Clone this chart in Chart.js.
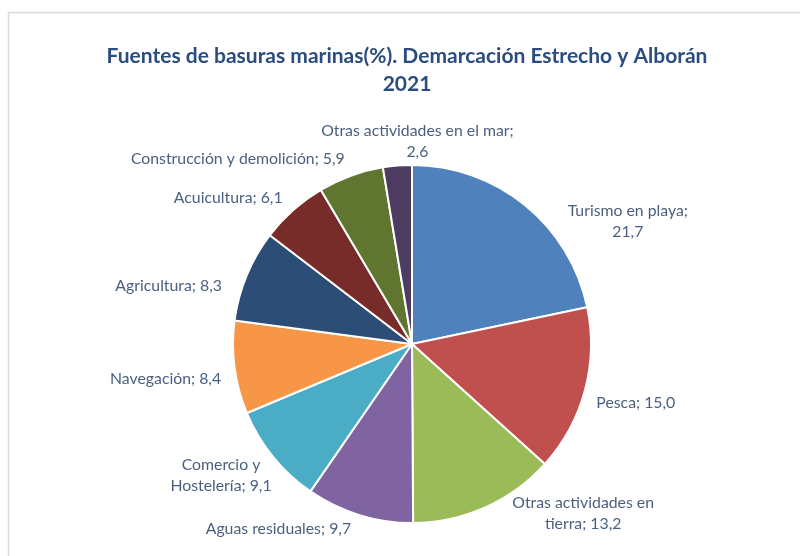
<!DOCTYPE html>
<html>
<head>
<meta charset="utf-8">
<script src="https://cdn.jsdelivr.net/npm/chart.js@4"></script>
<style>
    html, body { margin: 0; padding: 0; background: #fff; }
    #wrap { width: 800px; height: 556px; position: relative; }
</style>
</head>
<body>
<div id="wrap"><canvas id="chartFuentes" width="800" height="556"></canvas></div>
<script>
// Datos
const categorias = [
    'Turismo en playa', 'Pesca', 'Otras actividades en tierra', 'Aguas residuales',
    'Comercio y Hostelería', 'Navegación', 'Agricultura', 'Acuicultura',
    'Construcción y demolición', 'Otras actividades en el mar'
];
const porcentajes = [21.7, 15.0, 13.2, 9.7, 9.1, 8.4, 8.3, 6.1, 5.9, 2.6];
const colores = [
    '#4F81BD', '#C0504D', '#9BBB59', '#8064A2', '#4BACC6',
    '#F79646', '#2C4D75', '#772C2A', '#5F7530', '#4D3B62'
];

// Cómo se parte cada etiqueta en líneas (como en el original)
const lineasEtiqueta = [
    ['Turismo en playa;', '{v}'],
    ['Pesca; {v}'],
    ['Otras actividades en', 'tierra; {v}'],
    ['Aguas residuales; {v}'],
    ['Comercio y', 'Hostelería; {v}'],
    ['Navegación; {v}'],
    ['Agricultura; {v}'],
    ['Acuicultura; {v}'],
    ['Construcción y demolición; {v}'],
    ['Otras actividades en el mar;', '{v}']
];
// Desplazamiento del centro de la etiqueta respecto al borde del sector
const desplazamientos = [
    [103, 16], [51, 12], [98, 6], [-81, 14], [-52, 19],
    [-69, 11], [-78, 10], [-65, -12], [-113, -17], [20, -24]
];

const formatoValor = v => v.toFixed(1).replace('.', ',');

/**
 * Marco gris y título
 */
const fondoPlugin = {
    id: 'fondo',
    beforeDraw(chart) {
        const ctx = chart.ctx;
        ctx.save();
        ctx.strokeStyle = '#D9D9D9';
        ctx.lineWidth = 1.5;
        ctx.strokeRect(8.5, 12.5, 900, 700);
        ctx.fillStyle = '#2B4C7E';
        ctx.font = 'bold 21px Lato, "Open Sans", sans-serif';
        ctx.textAlign = 'center';
        ctx.textBaseline = 'middle';
        ctx.fillText('Fuentes de basuras marinas(%). Demarcación Estrecho y Alborán', 407, 56);
        ctx.fillText('2021', 407, 84);
        ctx.restore();
    }
};

/**
 * Etiquetas de datos fuera del sector
 */
const etiquetasPlugin = {
    id: 'etiquetas',
    afterDatasetsDraw(chart) {
        const ctx = chart.ctx;
        const meta = chart.getDatasetMeta(0);
        ctx.save();
        ctx.fillStyle = '#4A5F80';
        ctx.font = '15.8px Lato, "Open Sans", sans-serif';
        ctx.textAlign = 'center';
        ctx.textBaseline = 'middle';
        meta.data.forEach((arc, i) => {
            const p = arc.getProps(['x', 'y', 'startAngle', 'endAngle', 'outerRadius'], true);
            const mid = (p.startAngle + p.endAngle) / 2;
            const bx = p.x + Math.cos(mid) * p.outerRadius;
            const by = p.y + Math.sin(mid) * p.outerRadius;
            const cx = bx + desplazamientos[i][0];
            const cy = by + desplazamientos[i][1];
            const lineas = lineasEtiqueta[i].map(t => t.replace('{v}', formatoValor(porcentajes[i])));
            const alto = 21;
            lineas.forEach((t, j) => {
                ctx.fillText(t, cx, cy + (j - (lineas.length - 1) / 2) * alto);
            });
        });
        ctx.restore();
    }
};

new Chart(document.getElementById('chartFuentes').getContext('2d'), {
    type: 'pie',
    data: {
        labels: categorias,
        datasets: [{
            data: porcentajes,
            backgroundColor: colores,
            borderColor: '#FFFFFF',
            borderWidth: 2
        }]
    },
    options: {
        responsive: false,
        animation: false,
        layout: { padding: { top: 164, bottom: 32, left: 232, right: 208 } },
        plugins: {
            legend: { display: false },
            title: { display: false },
            tooltip: { enabled: false }
        }
    },
    plugins: [fondoPlugin, etiquetasPlugin]
});
</script>
</body>
</html>
